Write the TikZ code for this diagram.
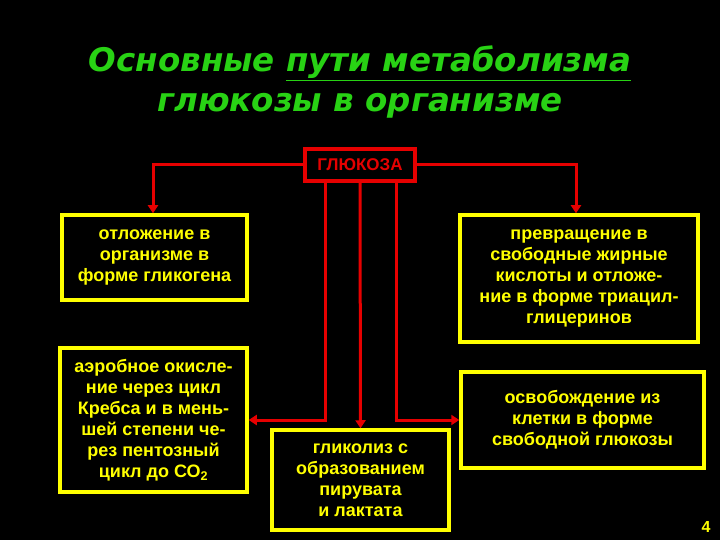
\documentclass[tikz,border=0pt]{standalone}
\usepackage{fontspec}
\setmainfont{Liberation Sans}
\newfontfamily\titlefont{DejaVu Sans}
\usetikzlibrary{arrows.meta}
\definecolor{ylw}{RGB}{255,255,0}
\definecolor{grn}{RGB}{40,210,20}
\definecolor{rd}{RGB}{230,0,0}
\begin{document}
\begin{tikzpicture}[x=1pt,y=-1pt,
  ybox/.style={draw=ylw,line width=3.5pt,fill=black,text=ylw,font=\fontsize{18}{21}\selectfont\bfseries,align=center,inner sep=0pt},
  conn/.style={draw=rd,line width=3pt},
  arr/.style={conn,-{Triangle[length=8pt,width=10pt]}}]
\fill[black] (0,0) rectangle (720,540);
\useasboundingbox (0,0) rectangle (720,540);
\node[text=grn,font=\titlefont\fontsize{32.5}{40}\selectfont\bfseries\itshape,align=center] (title) at (360,82)
 {Основные \underline{пути метаболизма}\\глюкозы в организме};
\node[draw=rd,line width=4pt,fill=black,text=rd,font=\fontsize{17}{18}\selectfont\bfseries,minimum width=110pt,minimum height=32pt,inner sep=0pt] (g) at (360,165) {ГЛЮКОЗА};
\node[ybox,minimum width=185pt,minimum height=85pt] (l1) at (154.5,257.5) {отложение в\\организме в\\форме гликогена};
\node[ybox,minimum width=238pt,minimum height=127pt] (r1) at (579,278.5) {превращение в\\свободные жирные\\кислоты и отложе-\\ние в форме триацил-\\глицеринов};
\node[ybox,minimum width=187pt,minimum height=144pt] (l2) at (153.5,420) {аэробное окисле-\\ние через цикл\\Кребса и в мень-\\шей степени че-\\рез пентозный\\цикл до СО\textsubscript{2}};
\node[ybox,minimum width=177pt,minimum height=100pt] (m) at (360.5,480) {гликолиз с\\образованием\\пирувата\\и лактата};
\node[ybox,minimum width=243pt,minimum height=96pt] (r2) at (582.5,420) {освобождение из\\клетки в форме\\свободной глюкозы};
\coordinate (gl) at (153,165);
\coordinate (gr) at (576,165);
\draw[arr] (g.west) -- (gl) -- (l1.north -| gl);
\draw[arr] (g.east) -- (gr) -- (r1.north -| gr);
\coordinate (c1) at (325,420);
\coordinate (c3) at (396,420);
\draw[arr] (g.south -| c1) -- (c1) -- (l2.east |- c1);
\draw[arr] (g.south) -- (m.north);
\draw[arr] (g.south -| c3) -- (c3) -- (r2.west |- c3);
\node[text=ylw,font=\fontsize{16}{16}\selectfont\bfseries] (pn) at (706,527) {4};
\end{tikzpicture}
\end{document}
